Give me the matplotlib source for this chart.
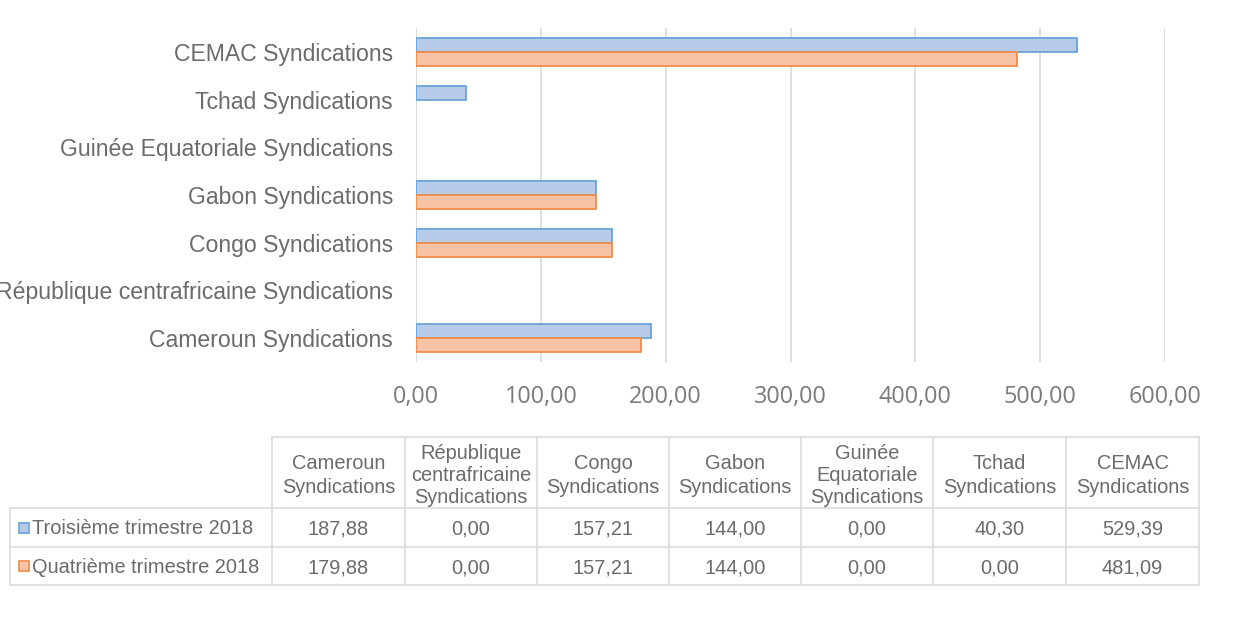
import matplotlib
matplotlib.use("Agg")
import matplotlib.pyplot as plt
from matplotlib.patches import Rectangle

categories = ["Cameroun Syndications", "République centrafricaine Syndications", "Congo Syndications",
              "Gabon Syndications", "Guinée Equatoriale Syndications", "Tchad Syndications", "CEMAC Syndications"]
header_labels = ["Cameroun\nSyndications", "République\ncentrafricaine\nSyndications", "Congo\nSyndications",
                 "Gabon\nSyndications", "Guinée\nEquatoriale\nSyndications", "Tchad\nSyndications", "CEMAC\nSyndications"]
series_names = ["Troisième trimestre 2018", "Quatrième trimestre 2018"]
q3 = [187.88, 0.00, 157.21, 144.00, 0.00, 40.30, 529.39]
q4 = [179.88, 0.00, 157.21, 144.00, 0.00, 0.00, 481.09]
xticks = [0, 100, 200, 300, 400, 500, 600]

W, H = 1233, 617
fig = plt.figure(figsize=(W / 100, H / 100), dpi=100)
fig.patch.set_facecolor("white")
gray = "#6b6b6b"
sans = ["Liberation Sans", "DejaVu Sans"]
blue_fill, blue_edge = "#b5cbe8", "#6aa3d8"
orange_fill, orange_edge = "#f7c2a6", "#ef8c4a"

def fx(px):
    return px / W

def fy(py):
    return 1 - py / H

ax_left, ax_right, ax_top, ax_bot = 416, 1165, 28, 362
ax = fig.add_axes([fx(ax_left), fy(ax_bot), fx(ax_right) - fx(ax_left), (ax_bot - ax_top) / H])
n = len(categories)
ys = list(range(n))
h = 0.29
for y, v in zip(ys, q3):
    if v > 0:
        ax.barh(y + h / 2, v, height=h, color=blue_fill, edgecolor=blue_edge, linewidth=1.3, zorder=3)
for y, v in zip(ys, q4):
    if v > 0:
        ax.barh(y - h / 2, v, height=h, color=orange_fill, edgecolor=orange_edge, linewidth=1.3, zorder=3)
ax.set_xlim(0, 600)
ax.set_ylim(-0.5, n - 0.5)
ax.set_yticks(ys)
ax.set_yticklabels(categories, fontsize=16.6, color=gray, family=sans)
ax.set_xticks(xticks)
ax.set_xticklabels([f"{v:.2f}".replace(".", ",") for v in xticks], fontsize=16.8, color="#7a7a7a",
                   family=["Open Sans", "DejaVu Sans"])
ax.tick_params(axis="both", length=0)
ax.tick_params(axis="y", pad=16.5)
ax.tick_params(axis="x", pad=16.5)
for s in ax.spines.values():
    s.set_visible(False)
ax.grid(axis="x", color="#dcdcdc", linewidth=1.3, zorder=0)
ax.axvline(0, color="#dcdcdc", linewidth=1.3, zorder=1)

# Table
tab = fig.add_axes([0, 0, 1, 1])
tab.set_xlim(0, W)
tab.set_ylim(H, 0)
tab.axis("off")
line_c = "#dcdcdc"
col_edges = [272, 405, 537, 669, 801, 933, 1066, 1199]
row_edges = [437, 508, 547, 585]
left = 10
tab.plot([col_edges[0], col_edges[-1]], [row_edges[0]] * 2, color=line_c, lw=1.2)
for r in row_edges[1:]:
    tab.plot([left, col_edges[-1]], [r, r], color=line_c, lw=1.2)
for c in col_edges:
    tab.plot([c, c], [row_edges[0], row_edges[-1]], color=line_c, lw=1.2)
tab.plot([left, left], [row_edges[1], row_edges[-1]], color=line_c, lw=1.2)

fs = 14.4
for i, lab in enumerate(header_labels):
    cx = (col_edges[i] + col_edges[i + 1]) / 2
    nl = lab.count("\n") + 1
    tab.text(cx, (row_edges[0] + row_edges[1]) / 2 + 3, lab, ha="center", va="center", fontsize=fs,
             color=gray, linespacing=1.35 if nl == 2 else 1.2, family=sans)

series = [q3, q4]
fills = [(blue_fill, blue_edge), (orange_fill, orange_edge)]
for r, (name, vals) in enumerate(zip(series_names, series)):
    cy = (row_edges[r + 1] + row_edges[r + 2]) / 2
    fc, ec = fills[r]
    tab.add_patch(Rectangle((18.5, cy - 5), 10, 10, facecolor=fc, edgecolor=ec, lw=1.2))
    tab.text(32, cy + 1.5, name, ha="left", va="center", fontsize=fs, color=gray, family=sans)
    for i, v in enumerate(vals):
        cx = (col_edges[i] + col_edges[i + 1]) / 2
        tab.text(cx, cy + 1.5, f"{v:.2f}".replace(".", ","), ha="center", va="center", fontsize=fs,
                 color=gray, family=sans)

fig.savefig("out.png", dpi=100, facecolor="white")
